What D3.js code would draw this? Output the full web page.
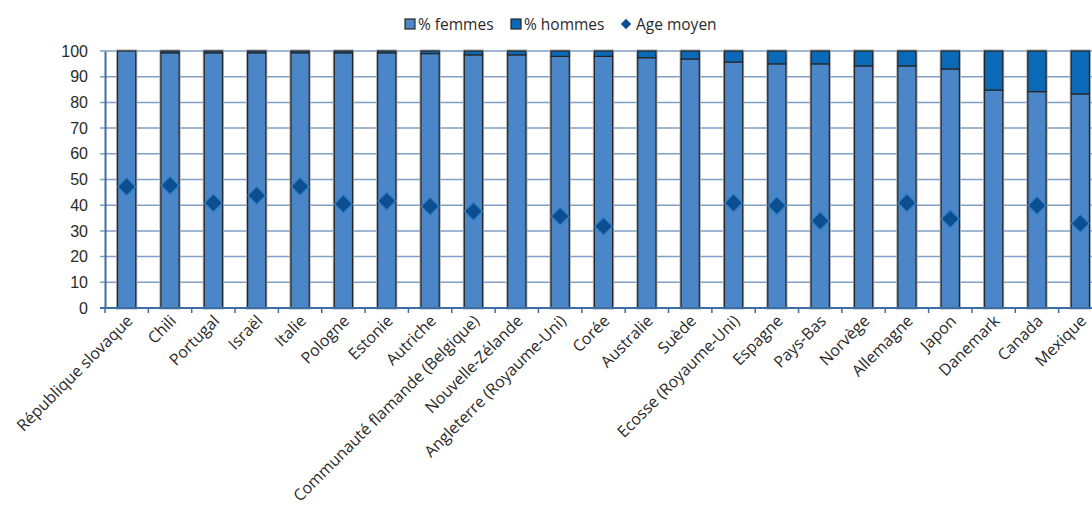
<!DOCTYPE html>
<html>
<head>
<meta charset="utf-8">
<script src="https://cdn.jsdelivr.net/npm/d3@7"></script>
<style>
  body { margin: 0; background: #fff; }
  svg { display: block; font-family: "Open Sans", sans-serif; }
</style>
</head>
<body>
<div id="chart"></div>
<script>

// share of women / men teachers and mean age, by country

const countries = ['République slovaque', 'Chili', 'Portugal', 'Israël', 'Italie', 'Pologne', 'Estonie',
    'Autriche', 'Communauté flamande (Belgique)', 'Nouvelle-Zélande', 'Angleterre (Royaume-Uni)', 'Corée',
    'Australie', 'Suède', 'Ecosse (Royaume-Uni)', 'Espagne', 'Pays-Bas', 'Norvège', 'Allemagne', 'Japon',
    'Danemark', 'Canada', 'Mexique'];

const femmes = [100, 99.3, 99.3, 99.3, 99.3, 99.3, 99.3, 99.0, 98.5, 98.5, 97.9, 97.9,
    97.4, 96.9, 95.7, 95.0, 95.0, 94.2, 94.2, 93.0, 84.8, 84.2, 83.3];

const hommes = femmes.map(v => +(100 - v).toFixed(1));

const ageMoyen = [47.2, 47.7, 40.9, 43.8, 47.3, 40.5, 41.6, 39.6, 37.6, null, 35.7, 31.8,
    null, null, 40.9, 39.8, 33.9, null, 40.9, 34.7, null, 39.9, 32.9];

const yTicks = [0, 10, 20, 30, 40, 50, 60, 70, 80, 90, 100];

const data = countries.map((c, i) => ({country: c, femmes: femmes[i], hommes: hommes[i], age: ageMoyen[i]}));

const W = 1092, H = 513;
const margin = {top: 51, left: 105};
const plotW = 997, plotH = 257;

const svg = d3.select('#chart').append('svg')
    .attr('width', W)
    .attr('height', H);

const g = svg.append('g')
    .attr('transform', `translate(${margin.left}, ${margin.top})`);

const x = d3.scaleBand()
    .domain(countries)
    .range([0, plotW])
    .paddingInner(0.58)
    .paddingOuter(0.29);

const y = d3.scaleLinear()
    .domain([0, 100])
    .range([plotH, 0]);

// gridlines
g.append('g')
    .selectAll('line')
    .data(yTicks)
    .join('line')
    .attr('x1', -5)
    .attr('x2', plotW)
    .attr('y1', d => y(d))
    .attr('y2', d => y(d))
    .attr('stroke', '#7f9fc6')
    .attr('stroke-width', 1.5);

// y axis
const yAxis = g.append('g')
    .call(d3.axisLeft(y).tickValues(yTicks).tickSize(0).tickPadding(17));
yAxis.select('.domain').attr('stroke', '#3a6ea5').attr('stroke-width', 2);
yAxis.selectAll('text').style('font-size', '16px').attr('fill', '#2a2a2a');

// bars: women
const cols = g.append('g').selectAll('g')
    .data(data)
    .join('g');

cols.append('rect')
    .attr('x', d => x(d.country))
    .attr('y', d => y(100))
    .attr('width', x.bandwidth())
    .attr('height', d => y(0) - y(100))
    .attr('fill', 'none')
    .attr('stroke', '#aaa')
    .attr('stroke-width', 3);

cols.append('rect')
    .attr('x', d => x(d.country))
    .attr('y', d => y(d.femmes))
    .attr('width', x.bandwidth())
    .attr('height', d => y(0) - y(d.femmes))
    .attr('fill', '#4a86c8')
    .attr('stroke', '#262626')
    .attr('stroke-width', 1.2);

// bars: men
cols.append('rect')
    .attr('x', d => x(d.country))
    .attr('y', d => y(d.femmes + d.hommes))
    .attr('width', x.bandwidth())
    .attr('height', d => y(d.femmes) - y(d.femmes + d.hommes))
    .attr('fill', '#0a6ab8')
    .attr('stroke', '#262626')
    .attr('stroke-width', 1.2);

// x axis
const xAxisG = g.append('g')
    .attr('transform', `translate(0, ${plotH})`);

xAxisG.append('line')
    .attr('x1', -5)
    .attr('x2', plotW)
    .attr('stroke', '#3a6ea5')
    .attr('stroke-width', 2);

xAxisG.selectAll('.tick')
    .data(d3.range(countries.length + 1))
    .join('line')
    .attr('class', 'tick')
    .attr('x1', i => i * x.step())
    .attr('x2', i => i * x.step())
    .attr('y1', 0)
    .attr('y2', 5)
    .attr('stroke', '#3a6ea5')
    .attr('stroke-width', 1.5);

xAxisG.selectAll('.lbl')
    .data(countries)
    .join('text')
    .attr('class', 'lbl')
    .attr('transform', d => `translate(${x(d) + x.bandwidth() / 2 + 7}, 14) rotate(-45)`)
    .attr('text-anchor', 'end')
    .style('font-size', '16px')
    .attr('fill', '#2a2a2a')
    .text(d => d);

// mean age diamonds
const diamond = d3.symbol().type(d3.symbolSquare).size(160);

g.append('g').selectAll('path')
    .data(data.filter(d => d.age != null))
    .join('path')
    .attr('d', diamond)
    .attr('transform', d => `translate(${x(d.country) + x.bandwidth() / 2}, ${y(d.age)}) rotate(45)`)
    .attr('fill', '#0b4f92')
    .attr('stroke', '#2f7fc4')
    .attr('stroke-width', 1.2);

// legend
const legend = svg.append('g')
    .attr('transform', 'translate(0, 24)');

const legendItems = [
    {label: '% femmes', color: '#4a86c8', x: 405, type: 'rect'},
    {label: '% hommes', color: '#0a6ab8', x: 511, type: 'rect'},
    {label: 'Age moyen', color: '#0b4f92', x: 621, type: 'diamond'}
];

legendItems.forEach(item => {
    if (item.type === 'rect') {
        legend.append('rect')
            .attr('x', item.x)
            .attr('y', -5)
            .attr('width', 10)
            .attr('height', 10)
            .attr('fill', item.color)
            .attr('stroke', '#262626')
            .attr('stroke-width', 1.2);
    } else {
        legend.append('path')
            .attr('d', d3.symbol().type(d3.symbolSquare).size(55))
            .attr('transform', `translate(${item.x + 5}, 0) rotate(45)`)
            .attr('fill', item.color);
    }
    legend.append('text')
        .attr('x', item.x + (item.type === 'rect' ? 13 : 15))
        .attr('y', 5.5)
        .style('font-size', '15.5px')
        .attr('fill', '#2a2a2a')
        .text(item.label);
});

</script>
</body>
</html>
